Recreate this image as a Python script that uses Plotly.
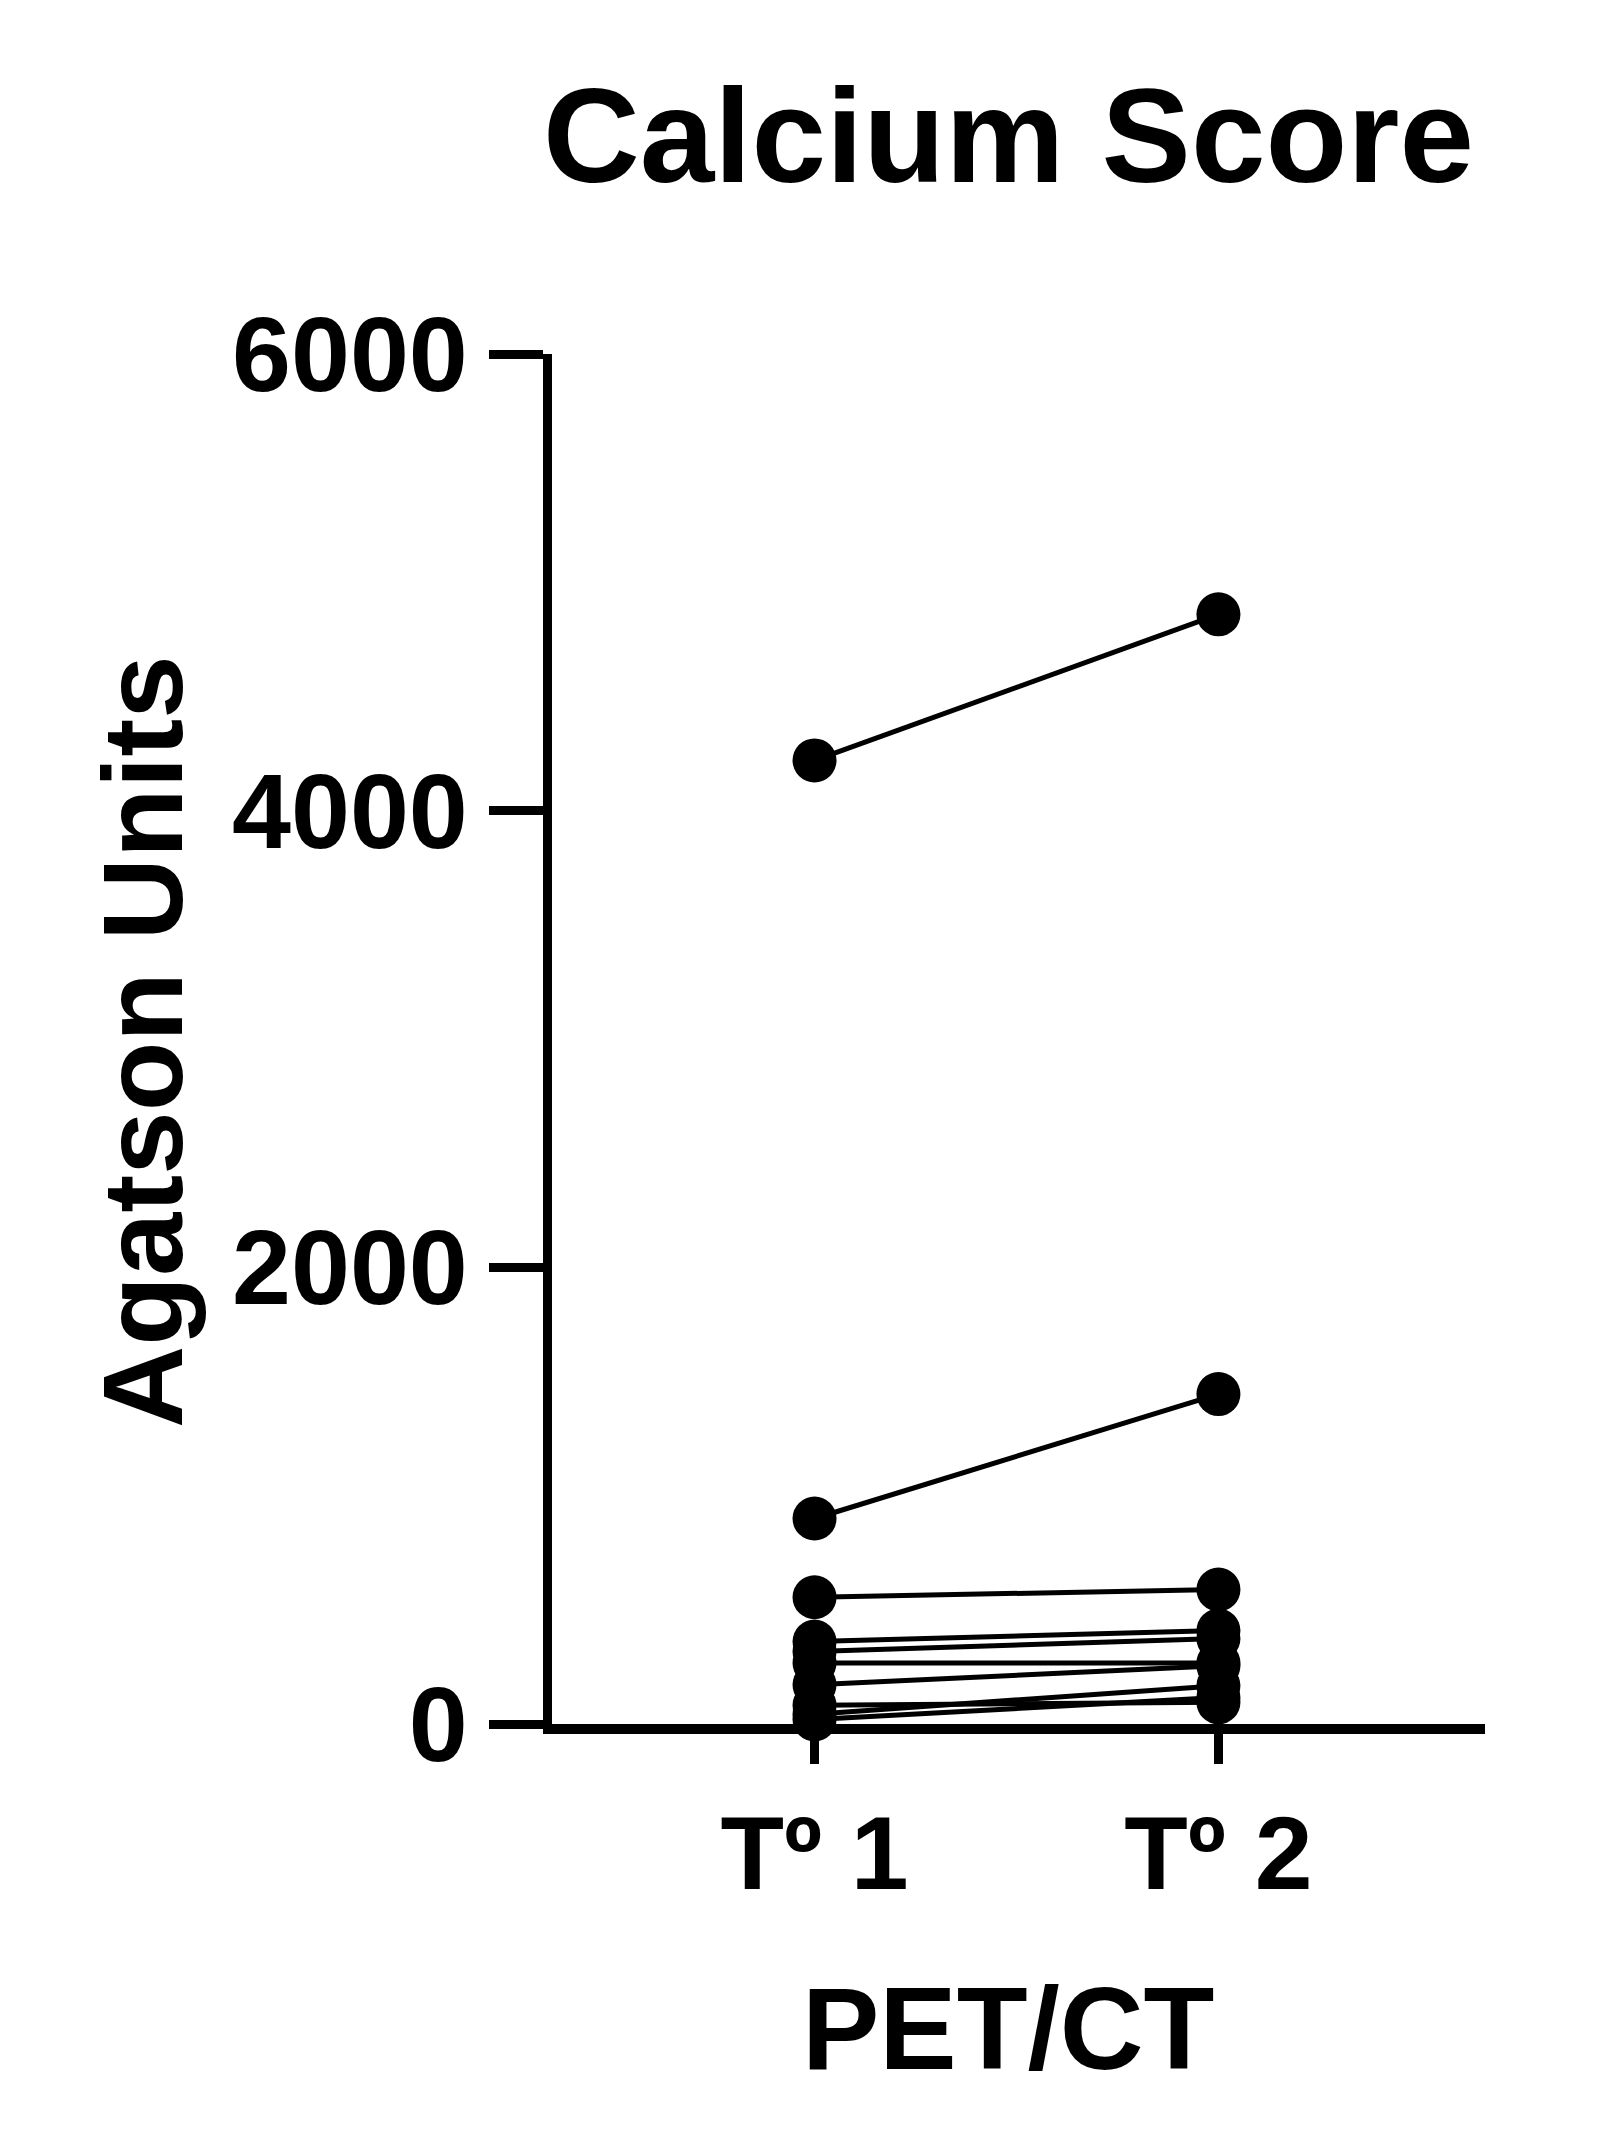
import plotly.graph_objects as go

timepoints = ["Tº 1", "Tº 2"]
t1_values = [4220, 900, 555, 361, 318, 267, 172, 82, 43, 20]
t2_values = [4860, 1445, 589, 409, 374, 267, 255, 95, 168, 116]
y_ticks = [0, 2000, 4000, 6000]

F = "Liberation Sans, Arial, sans-serif"
W, H = 1612, 2138
L, R, T, B = 544, 135, 346, 422
pw, ph = W - L - R, H - T - B

fig = go.Figure()
for a, b in zip(t1_values, t2_values):
    fig.add_trace(go.Scatter(x=[1, 2], y=[a, b], mode="lines+markers",
                             line=dict(color="black", width=5),
                             marker=dict(color="black", size=44),
                             cliponaxis=False, showlegend=False))

fig.update_layout(width=W, height=H, plot_bgcolor="white", paper_bgcolor="white",
                  margin=dict(l=L, r=R, t=T, b=B), font=dict(family=F, color="black"))

def ann(text, px, py, size, angle=0):
    fig.add_annotation(text=text, xref="paper", yref="paper",
                       x=(px - L) / pw, y=(H - B - py) / ph, xanchor="center", yanchor="middle",
                       showarrow=False, textangle=angle, font=dict(size=size, family=F, color="black"))

ann("<b>Calcium Score</b>", 1000, 128, 134)
ann("<b>Agatson Units</b>", 134, 1034, 114, -90)
ann("<b>PET/CT</b>", 1000, 2021, 116)

fig.update_xaxes(range=[0.35, 2.66], tickvals=[1, 2], ticktext=["<b>%s</b>" % t for t in timepoints],
                 ticks="outside", ticklen=30, tickwidth=9, tickcolor="black",
                 showline=True, linewidth=10, linecolor="black", showgrid=False, zeroline=False,
                 tickfont=dict(size=104, family=F))
fig.update_yaxes(range=[0, 6000], tickvals=y_ticks, ticktext=["<b>%d</b>" % v for v in y_ticks],
                 ticks="outside", ticklen=54, tickwidth=9, tickcolor="black",
                 showline=True, linewidth=9, linecolor="black", showgrid=False, zeroline=False,
                 tickfont=dict(size=106, family=F))
fig.add_shape(type="line", xref="x", yref="y", x0=0.2, x1=0.35, y0=0, y1=0,
              line=dict(color="black", width=10))
fig.write_html("out.html")
